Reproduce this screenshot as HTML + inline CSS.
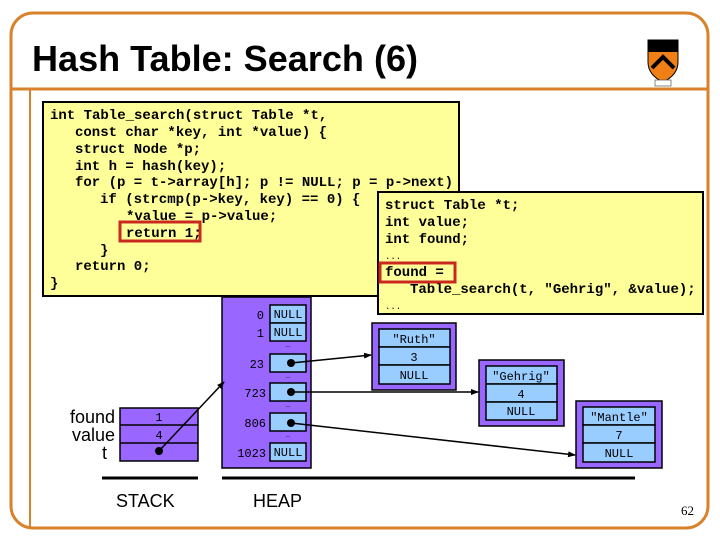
<!DOCTYPE html>
<html><head><meta charset="utf-8"><style>
body{margin:0;width:720px;height:540px;background:#fff;overflow:hidden}
svg{display:block}
.c{font-family:"Liberation Mono",monospace;font-weight:bold;font-size:14px;fill:#000}
.m{font-family:"Liberation Mono",monospace;font-size:12px;fill:#000}
.a{font-family:"Liberation Sans",sans-serif;font-size:18px;fill:#000}
</style></head><body>
<svg width="720" height="540" viewBox="0 0 720 540" xmlns="http://www.w3.org/2000/svg">
<defs><marker id="ar" markerWidth="8" markerHeight="8" refX="7" refY="4" orient="auto" markerUnits="userSpaceOnUse"><path d="M0,1 L8,4 L0,7 z" fill="#000"/></marker></defs>
<rect x="11" y="13" width="697" height="515" rx="22" fill="none" stroke="#d9822b" stroke-width="3"/>
<line x1="11" y1="89" x2="708" y2="89" stroke="#d9822b" stroke-width="3"/>
<line x1="30" y1="89" x2="30" y2="528" stroke="#d9822b" stroke-width="2"/>
<text x="32" y="71" font-family="Liberation Sans,sans-serif" font-weight="bold" font-size="36" fill="#000" textLength="386" lengthAdjust="spacingAndGlyphs">Hash Table: Search (6)</text>
<!-- logo -->
<path d="M648,40 L678,40 L678,62 Q678,75 663,82 Q648,75 648,62 Z" fill="#f07f16" stroke="#000"/>
<rect x="648" y="40" width="30" height="12" fill="#000"/>
<path d="M652,68 L663,57 L674,68" fill="none" stroke="#000" stroke-width="4"/>
<rect x="655" y="80" width="16" height="6" fill="#fff" stroke="#555" stroke-width="0.7"/>
<!-- code box 1 -->
<rect x="43" y="102" width="416" height="194" fill="#ffff99" stroke="#000" stroke-width="2"/>
<g class="c">
<text x="50" y="119">int Table_search(struct Table *t,</text>
<text x="75" y="136">const char *key, int *value) {</text>
<text x="75" y="153">struct Node *p;</text>
<text x="75" y="170">int h = hash(key);</text>
<text x="75" y="186">for (p = t-&gt;array[h]; p != NULL; p = p-&gt;next)</text>
<text x="100" y="203">if (strcmp(p-&gt;key, key) == 0) {</text>
<text x="126" y="220">*value = p-&gt;value;</text>
<text x="126" y="237">return 1;</text>
<text x="100" y="254">}</text>
<text x="75" y="270">return 0;</text>
<text x="50" y="287">}</text>
</g>
<rect x="120" y="222" width="80" height="19" fill="none" stroke="#c8281e" stroke-width="3"/>
<!-- code box 2 -->
<rect x="378" y="192" width="325" height="122" fill="#ffff99" stroke="#000" stroke-width="2"/>
<g class="c">
<text x="385" y="209">struct Table *t;</text>
<text x="385" y="226">int value;</text>
<text x="385" y="243">int found;</text>
<text x="385" y="259" font-size="9" font-weight="normal">...</text>
<text x="385" y="276">found =</text>
<text x="410" y="293">Table_search(t, "Gehrig", &amp;value);</text>
<text x="385" y="309" font-size="9" font-weight="normal">...</text>
</g>
<rect x="380" y="263" width="75" height="19" fill="none" stroke="#c8281e" stroke-width="3"/>
<!-- heap array -->
<rect x="222" y="297" width="89" height="171" fill="#9966ff" stroke="#000" stroke-width="1.5"/>
<g fill="#99ccff" stroke="#000" stroke-width="1.5">
<rect x="270" y="305" width="36" height="18"/><rect x="270" y="323" width="36" height="18"/>
<rect x="270" y="354" width="36" height="18"/><rect x="270" y="383" width="36" height="18"/>
<rect x="270" y="413" width="36" height="18"/><rect x="270" y="443" width="36" height="18"/>
</g>
<g class="m" text-anchor="end">
<text x="264" y="319">0</text><text x="264" y="337">1</text><text x="264" y="368">23</text>
<text x="266" y="397">723</text><text x="266" y="427">806</text><text x="266" y="457">1023</text>
</g>
<g class="m" text-anchor="middle" font-size="11">
<text x="288" y="318">NULL</text><text x="288" y="336">NULL</text><text x="288" y="456">NULL</text>
<text x="288" y="347" font-size="7">…</text><text x="288" y="378" font-size="7">…</text>
<text x="288" y="407" font-size="7">…</text><text x="288" y="437" font-size="7">…</text>
</g>
<!-- nodes -->
<g stroke="#000" stroke-width="1.5">
<rect x="372" y="323" width="84" height="67" fill="#9966ff"/>
<rect x="379" y="329" width="71" height="18" fill="#99ccff"/><rect x="379" y="347" width="71" height="18" fill="#99ccff"/><rect x="379" y="365" width="71" height="19" fill="#99ccff"/>
<rect x="479" y="360" width="85" height="66" fill="#9966ff"/>
<rect x="486" y="366" width="71" height="18" fill="#99ccff"/><rect x="486" y="384" width="71" height="18" fill="#99ccff"/><rect x="486" y="402" width="71" height="18" fill="#99ccff"/>
<rect x="576" y="401" width="86" height="67" fill="#9966ff"/>
<rect x="583" y="407" width="72" height="18" fill="#99ccff"/><rect x="583" y="425" width="72" height="18" fill="#99ccff"/><rect x="583" y="443" width="72" height="19" fill="#99ccff"/>
</g>
<g class="m" text-anchor="middle">
<text x="414" y="343">"Ruth"</text><text x="414" y="361">3</text><text x="414" y="379">NULL</text>
<text x="521" y="380">"Gehrig"</text><text x="521" y="398">4</text><text x="521" y="415">NULL</text>
<text x="619" y="421">"Mantle"</text><text x="619" y="439">7</text><text x="619" y="457">NULL</text>
</g>
<!-- stack -->
<rect x="120" y="408" width="78" height="53" fill="#9966ff" stroke="#000" stroke-width="1.5"/>
<line x1="120" y1="425" x2="198" y2="425" stroke="#000" stroke-width="1.5"/>
<line x1="120" y1="443" x2="198" y2="443" stroke="#000" stroke-width="1.5"/>
<g class="m" text-anchor="middle"><text x="159" y="421">1</text><text x="159" y="439">4</text></g>
<g class="a" text-anchor="end"><text x="115" y="423">found</text><text x="115" y="441">value</text><text x="107" y="459">t</text></g>
<!-- pointers -->
<g stroke="#000" stroke-width="1.5" fill="none" marker-end="url(#ar)">
<line x1="159" y1="451" x2="224" y2="382"/>
<line x1="291" y1="363" x2="371" y2="355"/>
<line x1="291" y1="392" x2="478" y2="392"/>
<line x1="291" y1="423" x2="575" y2="455"/>
</g>
<g fill="#000"><circle cx="159" cy="451" r="4"/><circle cx="291" cy="363" r="4"/><circle cx="291" cy="392" r="4"/><circle cx="291" cy="423" r="4"/></g>
<line x1="102" y1="478" x2="198" y2="478" stroke="#000" stroke-width="3"/>
<line x1="222" y1="478" x2="635" y2="478" stroke="#000" stroke-width="3"/>
<text x="116" y="507" class="a">STACK</text>
<text x="253" y="507" class="a">HEAP</text>
<text x="681" y="515" font-family="Liberation Serif,serif" font-size="13" fill="#000">62</text>
</svg>
</body></html>
